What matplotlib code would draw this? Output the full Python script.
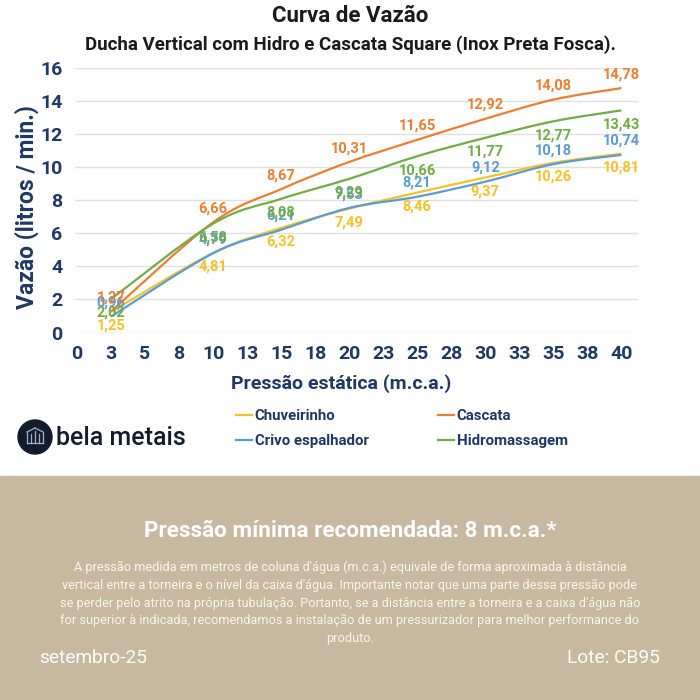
import numpy as np
import matplotlib.pyplot as plt
from matplotlib.path import Path
from matplotlib.patches import PathPatch, Circle, Rectangle
from matplotlib.lines import Line2D

plt.rcParams['font.family'] = ['Roboto', 'DejaVu Sans']

NAVY = '#1f3864'
BEIGE = '#c8b89f'

pressao = [2.5, 10, 15, 20, 25, 30, 35, 40]
chuveirinho = [1.25, 4.81, 6.32, 7.49, 8.46, 9.37, 10.26, 10.81]
cascata = [1.27, 6.66, 8.67, 10.31, 11.65, 12.92, 14.08, 14.78]
crivo = [0.96, 4.79, 6.21, 7.53, 8.21, 9.12, 10.18, 10.74]
hidro = [2.02, 6.58, 8.08, 9.29, 10.66, 11.77, 12.77, 13.43]

series = [
    ('Chuveirinho', chuveirinho, '#f5c225', -1),
    ('Crivo espalhador', crivo, '#5b9bd5', 1),
    ('Cascata', cascata, '#ed7d31', 1),
    ('Hidromassagem', hidro, '#70ad47', -1),
]

x_ticks = np.arange(0, 40.1, 2.5)
x_labels = ['0', '3', '5', '8', '10', '13', '15', '18', '20',
            '23', '25', '28', '30', '33', '35', '38', '40']


def smooth_path(x, y):
    # bezier through the points, like excel's smoothed line
    x = np.asarray(x, float)
    y = np.asarray(y, float)
    verts = [(x[0], y[0])]
    codes = [Path.MOVETO]
    n = len(x)
    for i in range(n - 1):
        p0 = np.array([x[max(i - 1, 0)], y[max(i - 1, 0)]])
        p1 = np.array([x[i], y[i]])
        p2 = np.array([x[i + 1], y[i + 1]])
        p3 = np.array([x[min(i + 2, n - 1)], y[min(i + 2, n - 1)]])
        c1 = p1 + (p2 - p0) / 6.0
        c2 = p2 - (p3 - p1) / 6.0
        verts += [tuple(c1), tuple(c2), tuple(p2)]
        codes += [Path.CURVE4] * 3
    return Path(verts, codes)


fig = plt.figure(figsize=(7, 7), dpi=100)
fig.patch.set_facecolor('white')

ax = fig.add_axes([0.107, 0.525, 0.804, 0.378])
for name, vals, col, side in series:
    ax.add_patch(PathPatch(smooth_path(pressao, vals), facecolor='none',
                           edgecolor=col, lw=1.6, zorder=3))
    for xv, yv in zip(pressao, vals):
        ax.annotate(f'{yv:.2f}'.replace('.', ','), (xv, yv),
                    xytext=(0, 10 * side), textcoords='offset points',
                    ha='center', va='center', color=col, fontsize=10.5,
                    fontweight='bold', zorder=4)

ax.set_xlim(-0.15, 41.2)
ax.set_ylim(0, 16)
ax.set_xticks(x_ticks)
ax.set_xticklabels(x_labels)
ax.set_yticks(np.arange(0, 17, 2))
ax.tick_params(length=0, labelsize=14, labelcolor=NAVY, pad=9)
for lbl in ax.get_xticklabels() + ax.get_yticklabels():
    lbl.set_fontweight('bold')
ax.grid(axis='y', color='#e0e0e0', lw=1)
ax.set_axisbelow(True)
for s in ax.spines.values():
    s.set_visible(False)

# axis titles placed on the figure, like the excel layout
fig.text(341 / 700, 1 - 384 / 700, 'Pressão estática (m.c.a.)', ha='center',
         va='center', fontsize=14, fontweight='bold', color=NAVY)
fig.text(27 / 700, 1 - 207 / 700, 'Vazão (litros / min.)', ha='center',
         va='center', rotation=90, fontsize=16.5, fontweight='bold', color=NAVY)

fig.text(0.5, 0.977, 'Curva de Vazão', ha='center', va='center',
         fontsize=16, fontweight='bold', color='#1a1a1a')
fig.text(0.5, 0.936, 'Ducha Vertical com Hidro e Cascata Square (Inox Preta Fosca).',
         ha='center', va='center', fontsize=13.5, fontweight='bold', color='#1a1a1a')

handles = [Line2D([], [], color=c, lw=1.6) for _, _, c, _ in series]
names = [n for n, _, _, _ in series]
leg = fig.legend(handles, names, ncol=2, loc='center left',
                 bbox_to_anchor=(0.318, 0.388), frameon=False,
                 handlelength=1.05, handletextpad=0.2, columnspacing=4.6,
                 labelspacing=0.72, prop={'size': 10.8, 'weight': 'bold'})
for t in leg.get_texts():
    t.set_color(NAVY)

# logo
fig.add_artist(Circle((35 / 700, 1 - 437 / 700), 17 / 700,
                      transform=fig.transFigure, color='#141b2d'))
ic = '#9fb4c8'
for seg in [((27, 443), (27, 432)), ((27, 432), (35, 428)), ((35, 428), (43, 432)),
            ((43, 432), (43, 443)), ((31, 443), (31, 434)), ((35, 443), (35, 431)),
            ((39, 443), (39, 434)), ((27, 443), (43, 443))]:
    fig.add_artist(Line2D([seg[0][0] / 700, seg[1][0] / 700],
                          [1 - seg[0][1] / 700, 1 - seg[1][1] / 700],
                          transform=fig.transFigure, color=ic, lw=0.9))
fig.text(56 / 700, 1 - 438 / 700, 'bela metais', ha='left', va='center',
         fontsize=18, color='#141b2d', fontweight='medium')

# bottom panel
fig.add_artist(Rectangle((0, 0), 1, 1 - 476 / 700, transform=fig.transFigure,
                         color=BEIGE, zorder=0))
fig.text(0.5, 1 - 531 / 700, 'Pressão mínima recomendada: 8 m.c.a.*',
         ha='center', va='center', fontsize=16.2, fontweight='bold', color='white')
texto = ("A pressão medida em metros de coluna d'água (m.c.a.) equivale de forma aproximada à distância\n"
         "vertical entre a torneira e o nível da caixa d'água. Importante notar que uma parte dessa pressão pode\n"
         "se perder pelo atrito na própria tubulação. Portanto, se a distância entre a torneira e a caixa d'água não\n"
         "for superior à indicada, recomendamos a instalação de um pressurizador para melhor performance do\n"
         "produto.")
fig.text(0.5, 1 - 603 / 700, texto, ha='center', va='center', fontsize=9.2,
         color='#f9f6f0', linespacing=1.45)
fig.text(39 / 700, 1 - 658 / 700, 'setembro-25', ha='left', va='center',
         fontsize=13.8, color='white')
fig.text(660 / 700, 1 - 658 / 700, 'Lote: CB95', ha='right', va='center',
         fontsize=13.8, color='white')

fig.savefig('out.png', dpi=100, facecolor=fig.get_facecolor())
